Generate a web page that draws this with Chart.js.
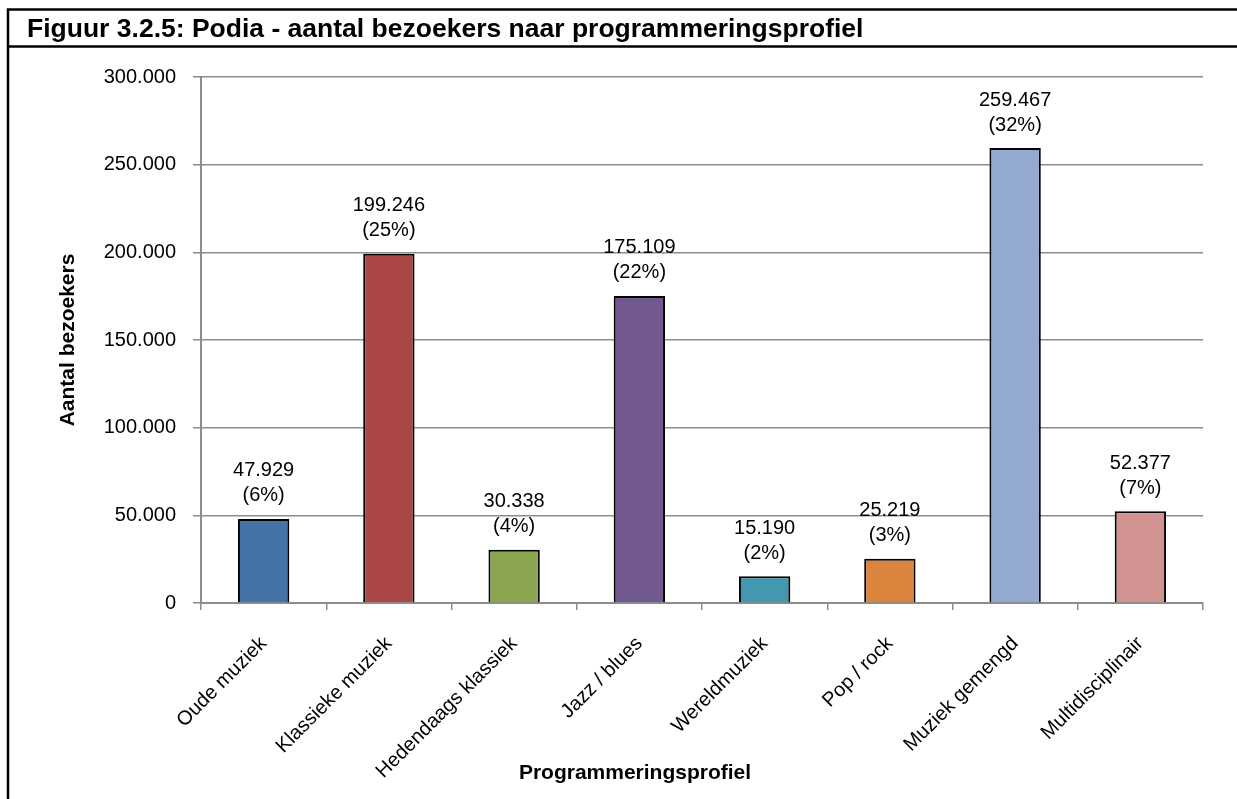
<!DOCTYPE html>
<html>
<head>
<meta charset="utf-8">
<script src="https://cdn.jsdelivr.net/npm/chart.js@4"></script>
<style>
  body { margin: 0; background: #fff; }
  canvas { display: block; }
</style>
</head>
<body>
<canvas id="chart" width="1237" height="799"></canvas>
<script>
const categories = ['Oude muziek', 'Klassieke muziek', 'Hedendaags klassiek', 'Jazz / blues',
  'Wereldmuziek', 'Pop / rock', 'Muziek gemengd', 'Multidisciplinair'];
const visitors = [47929, 199246, 30338, 175109, 15190, 25219, 259467, 52377];
const shares = ['6%', '25%', '4%', '22%', '2%', '3%', '32%', '7%'];
const barColors = ['#4572A7', '#AA4643', '#89A54E', '#71588F', '#4198AF', '#DB843D', '#93A9CF', '#D19392'];

const chartTitle = 'Figuur 3.2.5: Podia - aantal bezoekers naar programmeringsprofiel';
const xTitle = 'Programmeringsprofiel';
const FONT = '"Liberation Sans", Arial, Helvetica, sans-serif';

function fmt(n) {
  return String(n).replace(/\B(?=(\d{3})+(?!\d))/g, '.');
}

// frame, title bar and x axis title (which sits left of centre in the original)
const framePlugin = {
  id: 'frame',
  beforeDraw(chart) {
    const ctx = chart.ctx;
    ctx.save();
    ctx.fillStyle = '#fff';
    ctx.fillRect(0, 0, chart.width, chart.height);
    ctx.strokeStyle = '#000';
    ctx.lineWidth = 2.5;
    ctx.beginPath();
    ctx.moveTo(8, chart.height);
    ctx.lineTo(8, 9.5);
    ctx.lineTo(chart.width, 9.5);
    ctx.moveTo(8, 46.5);
    ctx.lineTo(chart.width, 46.5);
    ctx.stroke();
    ctx.fillStyle = '#000';
    ctx.font = 'bold 26.5px ' + FONT;
    ctx.textBaseline = 'alphabetic';
    ctx.fillText(chartTitle, 27, 37);
    ctx.font = 'bold 21px ' + FONT;
    ctx.textAlign = 'center';
    ctx.textBaseline = 'middle';
    ctx.fillText(xTitle, 635, 773);
    ctx.restore();
  }
};

// value + share above each bar
const labelPlugin = {
  id: 'barLabels',
  afterDatasetsDraw(chart) {
    const ctx = chart.ctx;
    const meta = chart.getDatasetMeta(0);
    ctx.save();
    ctx.fillStyle = '#000';
    ctx.font = '20px ' + FONT;
    ctx.textAlign = 'center';
    ctx.textBaseline = 'middle';
    meta.data.forEach((bar, i) => {
      ctx.fillText(fmt(visitors[i]), bar.x, bar.y - 48);
      ctx.fillText('(' + shares[i] + ')', bar.x, bar.y - 23);
    });
    ctx.restore();
  }
};

new Chart(document.getElementById('chart'), {
  type: 'bar',
  data: {
    labels: categories,
    datasets: [{
      data: visitors,
      backgroundColor: barColors,
      borderColor: '#000',
      borderWidth: 2,
      categoryPercentage: 1,
      barPercentage: 0.41
    }]
  },
  options: {
    responsive: false,
    animation: false,
    layout: { padding: { left: 50, right: 34, top: 77, bottom: 12 } },
    plugins: {
      legend: { display: false },
      tooltip: { enabled: false }
    },
    scales: {
      y: {
        min: 0,
        max: 300000,
        afterFit(scale) { scale.width = 151; },
        ticks: {
          stepSize: 50000,
          color: '#000',
          padding: 17,
          font: { family: FONT, size: 20 },
          callback: v => fmt(v)
        },
        grid: { color: '#8c8c8c', lineWidth: 1.5, tickLength: 8 },
        border: { color: '#8c8c8c', width: 2 },
        title: {
          display: true,
          text: 'Aantal bezoekers',
          color: '#000',
          padding: 6,
          font: { family: FONT, size: 21, weight: 'bold' }
        }
      },
      x: {
        afterFit(scale) { scale.height = 184; },
        ticks: {
          color: '#000',
          minRotation: 45,
          maxRotation: 45,
          padding: 22,
          font: { family: FONT, size: 20 }
        },
        grid: { drawOnChartArea: false, color: '#8c8c8c', lineWidth: 1.5, tickLength: 7 },
        border: { color: '#8c8c8c', width: 2 }
      }
    }
  },
  plugins: [framePlugin, labelPlugin]
});
</script>
</body>
</html>
